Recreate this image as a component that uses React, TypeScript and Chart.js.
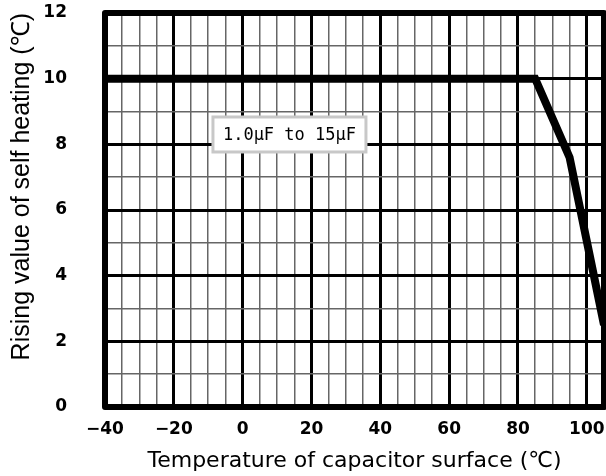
import React, { useEffect, useRef } from "react";
import { Chart, registerables } from "chart.js";

Chart.register(...registerables);

const temperatures = [-40, 85, 95, 105];
const risingValues = [10, 10, 7.6, 2.5];
const xTickLabels = ["−40", "−20", "0", "20", "40", "60", "80", "100"];
const yTickLabels = ["0", "2", "4", "6", "8", "10", "12"];
const seriesLabel = "1.0μF to 15μF";
const labelAnchor = { x: 13.6, y: 8.3 };

const xLabelFor = (v: number) => {
  const idx = xTickLabels.findIndex((t) => Number(t.replace("−", "-")) === v);
  return idx >= 0 ? xTickLabels[idx] : "";
};
const yLabelFor = (v: number) => {
  const idx = yTickLabels.findIndex((t) => Number(t) === v);
  return idx >= 0 ? yTickLabels[idx] : "";
};

const tickFont = { family: "'DejaVu Sans', sans-serif", size: 17, weight: "bold" as const };

const framePlugin = {
  id: "frame",
  afterDraw(chart: any) {
    const { ctx, chartArea: a } = chart;
    ctx.save();
    ctx.strokeStyle = "#000";
    ctx.lineWidth = 6;
    ctx.lineJoin = "round";
    ctx.strokeRect(a.left, a.top, a.right - a.left, a.bottom - a.top);
    ctx.restore();
  },
};

const labelPlugin = {
  id: "seriesLabel",
  afterDatasetsDraw(chart: any) {
    const { ctx, scales } = chart;
    const cx = scales.x.getPixelForValue(labelAnchor.x);
    const cy = scales.y.getPixelForValue(labelAnchor.y);
    ctx.save();
    ctx.font = "17px 'DejaVu Sans Mono', monospace";
    const w = 153;
    const h = 35;
    ctx.fillStyle = "#fff";
    ctx.fillRect(cx - w / 2, cy - h / 2, w, h);
    ctx.strokeStyle = "#c8c8c8";
    ctx.lineWidth = 3;
    ctx.strokeRect(cx - w / 2, cy - h / 2, w, h);
    ctx.fillStyle = "#000";
    ctx.textAlign = "center";
    ctx.textBaseline = "middle";
    ctx.fillText(seriesLabel, cx, cy + 1);
    ctx.restore();
  },
};

export default function App() {
  const ref = useRef<HTMLCanvasElement>(null);
  useEffect(() => {
    if (!ref.current) return;
    const chart = new Chart(ref.current, {
      type: "line",
      data: {
        datasets: [
          {
            label: seriesLabel,
            data: temperatures.map((t, i) => ({ x: t, y: risingValues[i] })),
            borderColor: "#000",
            borderWidth: 8,
            borderJoinStyle: "miter",
            pointRadius: 0,
            tension: 0,
            fill: false,
          },
        ],
      },
      options: {
        animation: false,
        responsive: true,
        maintainAspectRatio: false,
        layout: { padding: 0 },
        plugins: { legend: { display: false }, tooltip: { enabled: false } },
        scales: {
          x: {
            type: "linear",
            min: -40,
            max: 105,
            border: { display: false },
            grid: {
              drawTicks: false,
              color: (c: any) => (c.tick && c.tick.value % 20 === 0 ? "#000" : "#666"),
              lineWidth: (c: any) => (c.tick && c.tick.value % 20 === 0 ? 3 : 1.5),
            },
            ticks: {
              stepSize: 5,
              autoSkip: false,
              maxRotation: 0,
              padding: 12,
              color: "#000",
              font: tickFont,
              callback: (v: any) => xLabelFor(Number(v)),
            },
            title: {
              display: true,
              text: "Temperature of capacitor surface (℃)",
              color: "#000",
              font: { family: "'DejaVu Sans', sans-serif", size: 22 },
              padding: { top: 0, bottom: 2 },
            },
            afterFit: (s: any) => {
              s.height = 69;
              s.paddingLeft = 0;
              s.paddingRight = 2;
            },
          },
          y: {
            type: "linear",
            min: 0,
            max: 12,
            border: { display: false },
            grid: {
              drawTicks: false,
              color: (c: any) => (c.tick && c.tick.value % 2 === 0 ? "#000" : "#666"),
              lineWidth: (c: any) => (c.tick && c.tick.value % 2 === 0 ? 3 : 1.5),
            },
            ticks: {
              stepSize: 1,
              autoSkip: false,
              padding: 38,
              color: "#000",
              font: tickFont,
              callback: (v: any) => yLabelFor(Number(v)),
            },
            title: {
              display: true,
              text: "Rising value of self heating (℃)",
              align: "end",
              color: "#000",
              font: { family: "'Liberation Sans', Arial, sans-serif", size: 25 },
              padding: { top: 7, bottom: 0 },
            },
            afterFit: (s: any) => {
              s.width = 105;
              s.paddingTop = 13;
              s.paddingBottom = 0;
            },
          },
        },
      },
      plugins: [labelPlugin, framePlugin],
    });
    return () => chart.destroy();
  }, []);
  return (
    <div style={{ position: "fixed", left: 0, top: 0, width: 606, height: 476, background: "#fff" }}>
      <canvas ref={ref} />
    </div>
  );
}
